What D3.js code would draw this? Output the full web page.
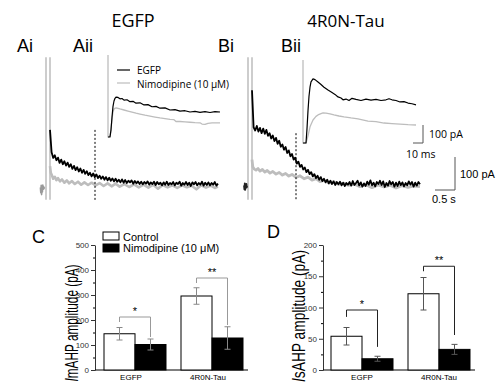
<!DOCTYPE html>
<html>
<head>
<meta charset="utf-8">
<script src="https://cdn.jsdelivr.net/npm/d3@7/dist/d3.min.js"></script>
<style>
  body { margin: 0; background: #fff; }
  text { font-family: "Liberation Sans", Arial, sans-serif; }
</style>
</head>
<body>
<svg id="fig" width="501" height="385"></svg>
<script>
// ---- black traces: current (pA) sampled every 0.04 s from the artifact ----
var sampleDt = 0.04;
var aBlackI = [170,
  102, 85, 93, 78, 86, 70, 80, 66, 75, 62, 71, 58, 66, 52, 61, 48, 57, 44, 53, 40,
  49, 37, 45, 33, 40, 29, 38, 27, 35, 24, 31, 22, 29, 19, 27, 17, 25, 16, 23, 14,
  22, 13, 19, 11, 20, 10, 18, 9, 16, 11, 17, 7, 15, 8, 14, 6, 13, 5, 12, 7,
  14, 4, 11, 6, 13, 3, 12, 5, 10, 2, 11, 4, 13, 3, 9, 5, 12, 2, 10, 6,
  13, 1, 9, 4, 12, 3, 10, 0, 11, 5, 12, 2, 9, 4, 13, 1, 10, 3, 11, 2,
  9, 4, 12, 1, 7];
var bBlackI = [290,
  178, 168, 182, 165, 176, 160, 174, 158, 170, 152, 160, 144, 153, 136, 146, 128, 137, 119, 126, 110,
  118, 100, 108, 90, 97, 80, 86, 68, 74, 58, 64, 50, 56, 42, 49, 36, 42, 29, 36, 24,
  31, 19, 27, 15, 22, 11, 19, 8, 16, 6, 14, 3, 12, 5, 13, 2, 10, 0, 9, 4,
  12, 1, 15, 3, 9, 16, 2, 11, -2, 8, 0, 13, 4, 17, 2, 10, -1, 12, 6, 16,
  3, 14, -3, 9, 1, 15, 5, 12, -2, 10, 0, 13, 3, 11, -1, 9, 2, 14, 4, 12,
  -2, 10, 1, 12, 5];
// ---- gray traces: [time (s), current (pA)] ----
var aGray = [[0.00,60],[0.02,40],[0.05,32],[0.08,22],[0.12,28],[0.16,18],[0.20,24],[0.25,14],[0.30,20],[0.36,10],
  [0.42,17],[0.48,8],[0.55,15],[0.62,6],[0.70,13],[0.78,4],[0.86,11],[0.95,3],[1.04,10],[1.14,2],[1.24,9],[1.34,0],
  [1.44,8],[1.54,-1],[1.64,7],[1.74,-2],[1.86,6],[1.98,-3],[2.10,5],[2.22,-4],[2.34,4],[2.46,-5],[2.58,4],[2.70,-8],
  [2.82,3],[2.94,-4],[3.06,2],[3.18,-6],[3.30,2],[3.42,-4],[3.54,1],[3.66,-10],[3.78,2],[3.90,-5],[4.02,1],[4.12,-6],[4.20,-2]];
var bGray = [[0.00,80],[0.02,58],[0.05,52],[0.10,48],[0.15,53],[0.20,45],[0.26,50],[0.32,42],[0.38,47],[0.45,39],
  [0.52,44],[0.60,36],[0.68,41],[0.76,33],[0.84,38],[0.92,30],[1.00,35],[1.10,26],[1.20,31],[1.30,22],[1.40,27],
  [1.50,18],[1.60,22],[1.70,13],[1.80,17],[1.92,9],[2.04,13],[2.16,5],[2.28,9],[2.40,2],[2.55,6],[2.70,-2],[2.85,4],
  [3.00,-5],[3.15,3],[3.30,-3],[3.45,2],[3.60,-6],[3.75,1],[3.90,-4],[4.05,0],[4.20,-2]];
var aPre = [[-0.24,-4],[-0.23,-20],[-0.22,2],[-0.21,-26],[-0.20,0],[-0.19,-18],[-0.18,3],[-0.17,-10],[-0.16,-2],[-0.15,-8],[-0.14,-3]];
var bPre = [[-0.20,2],[-0.19,-10],[-0.18,8],[-0.17,-12],[-0.16,4],[-0.15,-6],[-0.14,6],[-0.13,-4],[-0.12,0]];
var artifactTimes = [-0.1, 0];
var artifactRange = [-42, 390];
var dottedTime = { A: 1.125, B: 1.1 };

// ---- inset traces: [time (ms), current (pA)] ----
var aInsetBlack = [[-2,0],[0,0],[1,40],[2,110],[3,170],[4,200],[5,215],[6,222],[8,220],[10,212],[12,214],[14,205],[17,207],
  [20,196],[23,198],[26,188],[30,190],[34,178],[38,180],[42,168],[46,170],[50,160],[55,162],[60,150],[65,152],
  [70,144],[75,146],[80,139],[85,142],[90,137],[95,141],[100,136],[105,141],[110,139]];
var aInsetGray = [[-2,455],[-2,0],[0,5],[1,40],[2,100],[3,140],[4,155],[5,160],[7,161],[10,156],[14,150],[18,144],
  [22,138],[26,132],[30,127],[35,121],[40,116],[45,111],[50,106],[55,102],[60,98],[64,96],[66,86],[70,86],[75,84],
  [80,82],[85,80],[90,79],[92,72],[95,70],[98,76],[102,78],[106,79],[110,79]];
var bInsetBlack = [[-3,0],[0,0],[1,80],[2,180],[3,260],[4,310],[5,340],[7,356],[9,352],[12,339],[15,325],[18,310],
  [22,294],[26,280],[29,270],[32,256],[35,250],[37,240],[40,244],[43,236],[46,248],[50,242],[55,236],[60,244],
  [65,238],[70,242],[75,236],[80,240],[83,246],[86,240],[90,236],[94,228],[98,230],[102,222],[106,218],[110,212]];
var bInsetGray = [[-3,461],[-3,0],[0,0],[2,40],[4,90],[7,128],[10,148],[12,156],[15,163],[17,167],[20,166],[24,162],
  [28,156],[33,150],[38,145],[45,139],[52,134],[62,122],[70,119],[78,111],[86,108],[94,105],[102,102],[110,100]];

// ---- bar charts ----
var groups = ["EGFP", "4R0N-Tau"];
var conds = ["Control", "Nimodipine (10 μM)"];
var mahpMean = [[145, 102], [296, 128]];
var mahpErr = [[25, 22], [33, 45]];
var sahpMean = [[54, 18], [122, 33]];
var sahpErr = [[14, 4], [26, 8]];
var mahpTicks = [0, 100, 200, 300, 400, 500];
var sahpTicks = [0, 50, 100, 150, 200];
// [bracket top, left foot, right foot, label]
var mahpSig = [[212, 192, 132, "*"], [368, 348, 180, "**"]];
var sahpSig = [[96, 85, 37, "*"], [166, 158, 56, "**"]];

var svg = d3.select("#fig");
var gray = "#bdbdbd";
var line = d3.line().x(function(d){ return d[0]; }).y(function(d){ return d[1]; });

function drawTrace(data, xs, ys, color, w) {
  svg.append("path")
    .attr("d", line(data.map(function(d){ return [xs(d[0]), ys(d[1])]; })))
    .attr("fill", "none")
    .attr("stroke", color)
    .attr("stroke-width", w)
    .attr("stroke-linejoin", "round");
}
function sampled(values) {
  return values.map(function(v, i){ return [i * sampleDt, v]; });
}

// main trace panels
var tA = d3.scaleLinear().domain([0, 4.2]).range([50, 218]);
var tB = d3.scaleLinear().domain([0, 4.2]).range([252, 420]);
var iMain = d3.scaleLinear().domain([0, 100]).range([186, 153]);

[tA, tB].forEach(function(xs) {
  artifactTimes.forEach(function(t) {
    svg.append("line")
      .attr("x1", xs(t)).attr("x2", xs(t))
      .attr("y1", iMain(artifactRange[0])).attr("y2", iMain(artifactRange[1]))
      .attr("stroke", gray).attr("stroke-width", 1.5);
  });
});

drawTrace(aPre, tA, iMain, "#999", 1.6);
drawTrace(bPre, tB, iMain, "#222", 1.8);
drawTrace(aGray, tA, iMain, gray, 2.6);
drawTrace(sampled(aBlackI), tA, iMain, "#000", 1.8);
drawTrace(bGray, tB, iMain, gray, 2.8);
drawTrace(sampled(bBlackI), tB, iMain, "#000", 1.8);

// dotted markers
[[tA, dottedTime.A, 170], [tB, dottedTime.B, 160]].forEach(function(d) {
  svg.append("line")
    .attr("x1", d[0](d[1])).attr("x2", d[0](d[1]))
    .attr("y1", iMain(d[2])).attr("y2", iMain(artifactRange[0]))
    .attr("stroke", "#000").attr("stroke-width", 1)
    .attr("stroke-dasharray", "2,2");
});

// insets
var msA = d3.scaleLinear().domain([0, 110]).range([110, 220]);
var msB = d3.scaleLinear().domain([0, 110]).range([306, 416]);
var iInsA = d3.scaleLinear().domain([0, 100]).range([137, 119]);
var iInsB = d3.scaleLinear().domain([0, 100]).range([143, 125]);
drawTrace(aInsetGray, msA, iInsA, gray, 1.3);
drawTrace(aInsetBlack, msA, iInsA, "#000", 1.2);
drawTrace(bInsetGray, msB, iInsB, gray, 1.3);
drawTrace(bInsetBlack, msB, iInsB, "#000", 1.2);

// legend for traces
svg.append("line").attr("x1", 117).attr("x2", 130).attr("y1", 70).attr("y2", 70)
  .attr("stroke", "#000").attr("stroke-width", 1.2);
svg.append("line").attr("x1", 117).attr("x2", 130).attr("y1", 83).attr("y2", 83)
  .attr("stroke", gray).attr("stroke-width", 1.2);
svg.append("text").text("EGFP").attr("x", 137).attr("y", 74)
  .style("font-family", "Open Sans").style("font-size", "10px");
svg.append("text").text("Nimodipine (10 μM)").attr("x", 137).attr("y", 87.5)
  .style("font-family", "Open Sans").style("font-size", "10px");

// scale bars
function scaleBar(cx, cy, xs, tLen, ys, iLen) {
  var w = xs(tLen) - xs(0), h = ys(0) - ys(iLen);
  svg.append("path")
    .attr("d", "M" + (cx - w) + "," + cy + "H" + cx + "V" + (cy - h))
    .attr("fill", "none").attr("stroke", "#555").attr("stroke-width", 1);
}
scaleBar(423, 143, msB, 10, iInsB, 100);
scaleBar(455, 190, tB, 0.5, iMain, 100);
svg.append("text").text("100 pA").attr("x", 429).attr("y", 138)
  .style("font-family", "Open Sans").style("font-size", "10.5px");
svg.append("text").text("10 ms").attr("x", 406).attr("y", 158)
  .style("font-family", "Open Sans").style("font-size", "10.5px");
svg.append("text").text("100 pA").attr("x", 460).attr("y", 178).style("font-size", "11px");
svg.append("text").text("0.5 s").attr("x", 432).attr("y", 203).style("font-size", "11px");

// titles and panel letters
svg.append("text").text("EGFP").attr("x", 133).attr("y", 27).attr("text-anchor", "middle")
  .style("font-family", "Open Sans").style("font-size", "18px");
svg.append("text").text("4R0N-Tau").attr("x", 346).attr("y", 27).attr("text-anchor", "middle")
  .style("font-family", "Open Sans").style("font-size", "17px");
[["Ai", 17, 52], ["Aii", 73, 52], ["Bi", 218, 52], ["Bii", 281, 52], ["C", 32, 243], ["D", 267, 238]]
  .forEach(function(d) {
    svg.append("text").text(d[0]).attr("x", d[1]).attr("y", d[2]).style("font-size", "18px");
  });

// bar chart panels
function barPanel(o) {
  var y = d3.scaleLinear().domain([0, o.ticks[o.ticks.length - 1]]).range([370, 245]);
  var x = d3.scaleBand().domain(groups).range(o.bars).paddingInner(15 / 77);
  var xc = d3.scaleBand().domain(conds).range([0, x.bandwidth()]);

  var g = svg.append("g");
  // minor ticks
  var minor = d3.range(0, o.ticks.length - 1).map(function(i) {
    return (o.ticks[i] + o.ticks[i + 1]) / 2;
  });
  g.append("g")
    .attr("transform", "translate(" + o.axisX + ",0)")
    .call(d3.axisLeft(y).tickValues(minor).tickSize(2).tickSizeOuter(0).tickFormat(""))
    .call(function(s){ s.select(".domain").remove(); });
  var ya = g.append("g")
    .attr("transform", "translate(" + o.axisX + ",0)")
    .call(d3.axisLeft(y).tickValues(o.ticks).tickSize(4).tickSizeOuter(0).tickPadding(2));
  ya.selectAll("text").style("font-size", "8px").style("font-family", "Liberation Sans").attr("fill", "#333");
  ya.selectAll("line, path").attr("stroke", "#333");

  g.append("line").attr("x1", o.axisX).attr("x2", o.axisEnd).attr("y1", y(0)).attr("y2", y(0))
    .attr("stroke", "#000");

  groups.forEach(function(grp, gi) {
    conds.forEach(function(c, ci) {
      var x0 = x(grp) + xc(c);
      g.append("rect")
        .attr("x", x0).attr("y", y(o.mean[gi][ci]))
        .attr("width", xc.bandwidth()).attr("height", y(0) - y(o.mean[gi][ci]))
        .attr("fill", ci ? "#000" : "#fff").attr("stroke", "#000").attr("stroke-width", 1);
    });
  });
  groups.forEach(function(grp, gi) {
    conds.forEach(function(c, ci) {
      var cx = x(grp) + xc(c) + xc.bandwidth() / 2;
      var lo = y(o.mean[gi][ci] - o.err[gi][ci]), hi = y(o.mean[gi][ci] + o.err[gi][ci]);
      g.append("path")
        .attr("d", "M" + cx + "," + lo + "V" + hi + "M" + (cx - 3) + "," + hi + "H" + (cx + 3) +
          "M" + (cx - 3) + "," + lo + "H" + (cx + 3))
        .attr("fill", "none").attr("stroke", o.errColor).attr("stroke-width", 1);
    });
    var s = o.sig[gi];
    var l = x(grp) + xc(conds[0]) + xc.bandwidth() / 2;
    var r = x(grp) + xc(conds[1]) + xc.bandwidth() / 2;
    g.append("path")
      .attr("d", "M" + l + "," + y(s[1]) + "V" + y(s[0]) + "H" + r + "V" + y(s[2]))
      .attr("fill", "none").attr("stroke", o.sigColor).attr("stroke-width", 1);
    g.append("text").text(s[3]).attr("x", (l + r) / 2).attr("y", y(s[0]) - 2)
      .attr("text-anchor", "middle").style("font-size", "11px");
    g.append("text").text(grp).attr("x", x(grp) + x.bandwidth() / 2 - o.labelShift).attr("y", 380)
      .attr("text-anchor", "middle").style("font-size", "8px");
  });

  // y title
  var t = g.append("text").attr("text-anchor", "middle").style("font-size", "19px");
  t.append("tspan").text("I").style("font-style", "italic");
  t.append("tspan").text(o.sub + " amplitude (pA)");
  var k = o.titleLen / t.node().getComputedTextLength();
  t.attr("transform", "translate(" + o.titleX + "," + o.titleY + ") rotate(-90) scale(" + k + ",1)");
}

barPanel({ bars: [104, 243], axisX: 95, axisEnd: 248, ticks: mahpTicks, mean: mahpMean, err: mahpErr,
  sig: mahpSig, errColor: "#888", sigColor: "#999", sub: "mAHP", titleLen: 117, titleX: 78, titleY: 323, labelShift: 4 });
barPanel({ bars: [331, 470], axisX: 323, axisEnd: 475, ticks: sahpTicks, mean: sahpMean, err: sahpErr,
  sig: sahpSig, errColor: "#555", sigColor: "#222", sub: "sAHP", titleLen: 132, titleX: 305, titleY: 316, labelShift: 0 });

// legend for bar chart C
svg.append("rect").attr("x", 103).attr("y", 232).attr("width", 16).attr("height", 8)
  .attr("fill", "#fff").attr("stroke", "#000");
svg.append("rect").attr("x", 103).attr("y", 244).attr("width", 16).attr("height", 8)
  .attr("fill", "#000").attr("stroke", "#000");
svg.append("text").text(conds[0]).attr("x", 123).attr("y", 240.5).style("font-size", "11px");
svg.append("text").text(conds[1]).attr("x", 123).attr("y", 252).style("font-size", "11px");
</script>
</body>
</html>
